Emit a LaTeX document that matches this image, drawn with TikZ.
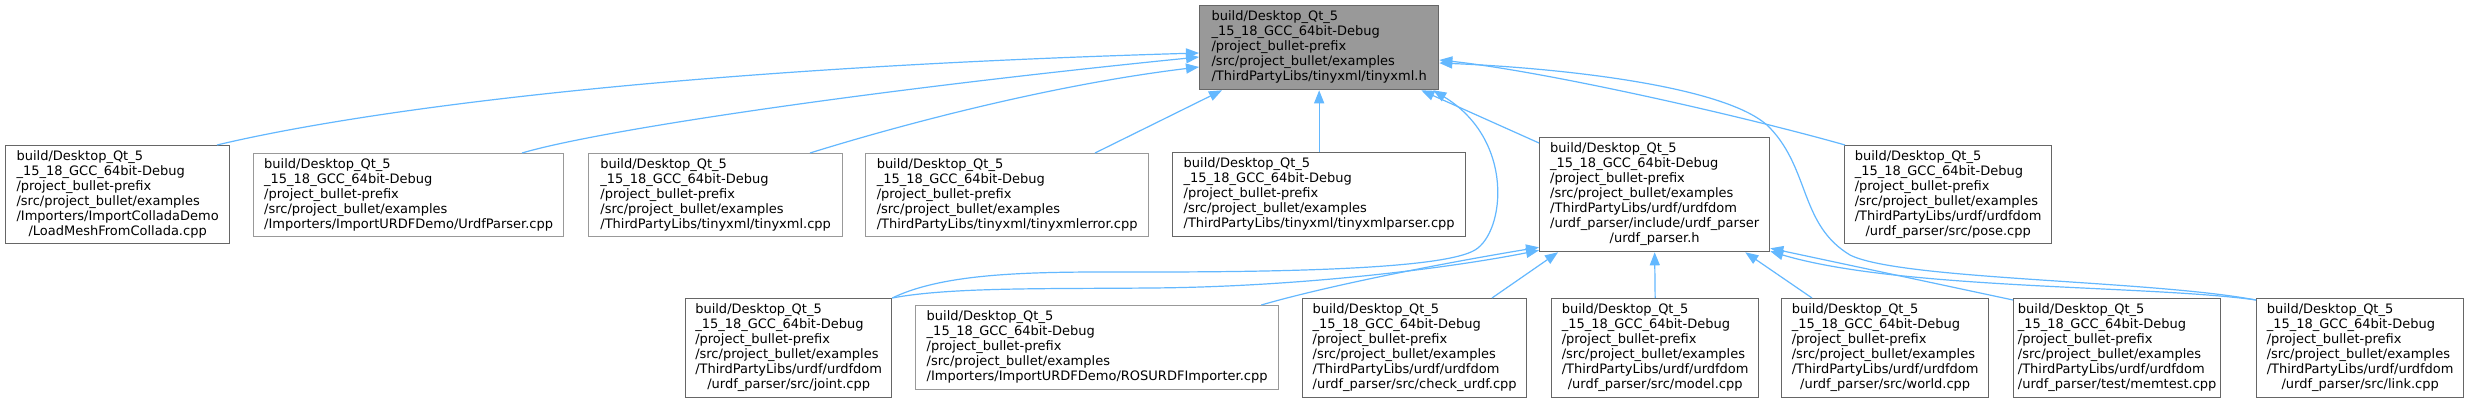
\documentclass[tikz,border=0pt]{standalone}
\usepackage{fontspec}
\setmainfont{DejaVu Sans}
\usetikzlibrary{arrows.meta,calc}
\definecolor{eblue}{HTML}{63B8FF}
\definecolor{dk}{HTML}{666666}
\definecolor{lt}{HTML}{999999}
\definecolor{rootfill}{HTML}{999999}
\newcommand{\dlbl}[2]{\begin{tabular}{@{}l@{}}build/Desktop\_Qt\_5\\\_15\_18\_GCC\_64bit-Debug\\/project\_bullet-prefix\\/src/project\_bullet/examples\\#1\multicolumn{1}{@{}c@{}}{#2}\end{tabular}}
\tikzset{
  box/.style={draw=dk, fill=white, line width=1.3pt, inner sep=0pt, anchor=north west, font=\fontsize{13}{15}\selectfont},
  lbox/.style={box, draw=lt},
  rbox/.style={box, fill=rootfill},
  edge/.style={draw=eblue, line width=1.2pt, -{Triangle[length=13pt,width=10pt]}}
}
\begin{document}
\begin{tikzpicture}[x=1pt,y=-1pt]
\fill[white] (0,0) rectangle (2469,403);
\useasboundingbox (0,0) rectangle (2469,403);

\node[rbox, minimum width=239pt, minimum height=84pt] (root) at (1199,5) {\dlbl{}{/ThirdPartyLibs/tinyxml/tinyxml.h}};

\node[box, minimum width=224pt, minimum height=98pt] (load) at (5,145) {\dlbl{/Importers/ImportColladaDemo\\}{/LoadMeshFromCollada.cpp}};
\node[lbox, minimum width=310pt, minimum height=83pt] (urdfp) at (253,153) {\dlbl{}{/Importers/ImportURDFDemo/UrdfParser.cpp}};
\node[lbox, minimum width=254pt, minimum height=83pt] (txcpp) at (588,153) {\dlbl{}{/ThirdPartyLibs/tinyxml/tinyxml.cpp}};
\node[lbox, minimum width=283pt, minimum height=83pt] (txerr) at (865,153) {\dlbl{}{/ThirdPartyLibs/tinyxml/tinyxmlerror.cpp}};
\node[box, minimum width=293pt, minimum height=84pt] (txpar) at (1172,152) {\dlbl{}{/ThirdPartyLibs/tinyxml/tinyxmlparser.cpp}};
\node[box, minimum width=230pt, minimum height=114pt] (uph) at (1539,137) {\dlbl{/ThirdPartyLibs/urdf/urdfdom\\/urdf\_parser/include/urdf\_parser\\}{/urdf\_parser.h}};
\node[box, minimum width=207pt, minimum height=98pt] (pose) at (1844,145) {\dlbl{/ThirdPartyLibs/urdf/urdfdom\\}{/urdf\_parser/src/pose.cpp}};

\node[box, minimum width=206pt, minimum height=99pt] (joint) at (685,298) {\dlbl{/ThirdPartyLibs/urdf/urdfdom\\}{/urdf\_parser/src/joint.cpp}};
\node[lbox, minimum width=363pt, minimum height=84pt] (ros) at (915,305) {\dlbl{}{/Importers/ImportURDFDemo/ROSURDFImporter.cpp}};
\node[box, minimum width=224pt, minimum height=99pt] (check) at (1302,298) {\dlbl{/ThirdPartyLibs/urdf/urdfdom\\}{/urdf\_parser/src/check\_urdf.cpp}};
\node[box, minimum width=207pt, minimum height=99pt] (model) at (1551,298) {\dlbl{/ThirdPartyLibs/urdf/urdfdom\\}{/urdf\_parser/src/model.cpp}};
\node[box, minimum width=207pt, minimum height=99pt] (world) at (1781,298) {\dlbl{/ThirdPartyLibs/urdf/urdfdom\\}{/urdf\_parser/src/world.cpp}};
\node[box, minimum width=207pt, minimum height=99pt] (memtest) at (2013,298) {\dlbl{/ThirdPartyLibs/urdf/urdfdom\\}{/urdf\_parser/test/memtest.cpp}};
\node[box, minimum width=207pt, minimum height=99pt] (link) at (2256,298) {\dlbl{/ThirdPartyLibs/urdf/urdfdom\\}{/urdf\_parser/src/link.cpp}};

% edges to root
\draw[edge] ($(load.north west)+(212,0)$) .. controls (330,118) and (620,70) .. ($(root.north west)+(0,48)$);
\draw[edge] ($(urdfp.north west)+(269,0)$) .. controls (600,130) and (870,90) .. ($(root.north west)+(0,52)$);
\draw[edge] ($(txcpp.north west)+(222,0)$) .. controls (900,125) and (1050,85) .. ($(root.north west)+(0,62)$);
\draw[edge] ($(txerr.north west)+(230,0)$) -- ($(root.south west)+(23,0)$);
\draw[edge] (txpar.north) -- (root.south);
\draw[edge] ($(uph.north west)+(0,6)$) -- ($(root.south east)+(-18,0)$);
\draw[edge] (joint.north east) .. controls (950,270) and (1050,272) .. (1150,272) .. controls (1300,272) and (1445,268) .. (1475,250) .. controls (1505,232) and (1515,140) .. ($(root.south east)+(-6,0)$);
\draw[edge] ($(link.north west)+(0,2)$) .. controls (2150,280) and (1900,280) .. (1850,255) .. controls (1800,225) and (1810,170) .. (1770,128) .. controls (1730,86) and (1560,68) .. ($(root.north east)+(0,58)$);
\draw[edge] ($(pose.north west)+(1,0)$) .. controls (1750,118) and (1550,72) .. ($(root.north east)+(0,55)$);

% edges to urdf_parser.h
\draw[edge] (joint.north east) .. controls (950,287) and (1050,289) .. (1150,288) .. controls (1300,287) and (1450,268) .. ($(uph.south west)+(0,-2)$);
\draw[edge] ($(ros.north east)+(-18,0)$) .. controls (1330,285) and (1450,262) .. ($(uph.south west)+(0,-5)$);
\draw[edge] ($(check.north west)+(190,0)$) -- ($(uph.south west)+(19,0)$);
\draw[edge] (model.north) -- (uph.south);
\draw[edge] ($(world.north west)+(31,0)$) -- ($(uph.south east)+(-25,0)$);
\draw[edge] ($(memtest.north west)+(0,2)$) -- ($(uph.south east)+(0,-4)$);
\draw[edge] ($(link.north west)+(0,2)$) .. controls (2150,285) and (1900,290) .. ($(uph.south east)+(0,-1)$);
\end{tikzpicture}
\end{document}
